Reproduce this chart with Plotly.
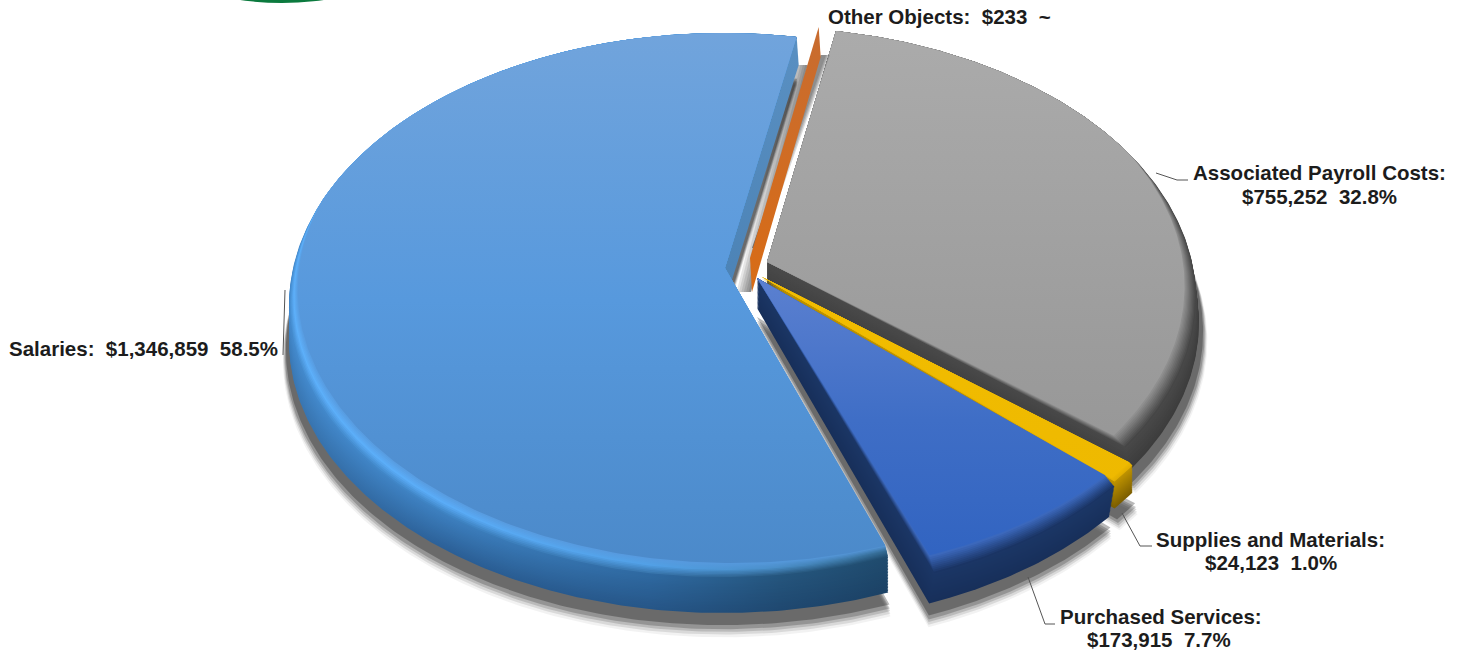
import math
import plotly.graph_objects as go

# Spending by object, listed clockwise round the pie
categories = ["Other Objects", "Associated Payroll Costs", "Supplies and Materials",
              "Purchased Services", "Salaries"]
amounts = [233, 755252, 24123, 173915, 1346859]
percent_labels = [None, "32.8%", "1.0%", "7.7%", "58.5%"]

W, H = 1461, 651
START_ANGLE = 11.2           # clockwise from the top of the disc
CX, CY, RX, RY = 722, 305, 434, 272
TILT = -0.136                # perspective shift of the disc centre

total = sum(amounts)
sweeps = [a / total * 360 for a in amounts]
edges = [START_ANGLE]
for s in sweeps:
    edges.append(edges[-1] + s)


def hex_rgb(c):
    c = c.lstrip("#")
    return tuple(int(c[i:i + 2], 16) for i in (0, 2, 4))


def mix(a, b, t):
    ra, rb = hex_rgb(a), hex_rgb(b)
    return "#%02x%02x%02x" % tuple(round(x + (y - x) * t) for x, y in zip(ra, rb))


def rim_point(theta, cx, cy, rx, ry):
    t = math.radians(theta)
    u, v = math.sin(t), -math.cos(t)
    den = 1 + TILT * v
    return (cx + rx * u * math.sqrt(1 - TILT ** 2) / den,
            cy + ry * (v + TILT) / den)


def wedge(a0, a1, off, apex, depth=0.0, grow=0.0, bevel=0.0, light=(0, 0), lean=0.0):
    """Outline of one slice, pushed down by depth and pulled in by bevel along `light`."""
    n = max(2, int(abs(a1 - a0) * 1.5))
    cx, cy = CX + off[0], CY + off[1]
    xs, ys = [apex[0]], [apex[1] + depth]
    for i in range(n + 1):
        th = a0 + (a1 - a0) * i / n
        x, y = rim_point(th, cx, cy, RX + grow, RY + grow)
        nx, ny = (x - cx) / RX ** 2, (y - cy) / RY ** 2
        norm = math.hypot(nx, ny)
        nx, ny = nx / norm, ny / norm
        pull = bevel * max(0.0, nx * light[0] + ny * light[1])
        xs.append(x - nx * pull + lean * depth)
        ys.append(y - ny * pull + depth)
    xs.append(apex[0])
    ys.append(apex[1] + depth)
    return xs, ys


def hgrad(stops):
    lo, hi = stops[0][0], stops[-1][0]
    return dict(type="horizontal", start=lo, stop=hi,
                colorscale=[[(x - lo) / (hi - lo), c] for x, c in stops])


def vgrad(stops):
    lo, hi = stops[0][0], stops[-1][0]
    return dict(type="vertical", start=lo, stop=hi,
                colorscale=[[(y - lo) / (hi - lo), c] for y, c in stops])


def blend(stops_a, stops_b, t):
    return [(x, mix(ca, cb, t)) for (x, ca), (_, cb) in zip(stops_a, stops_b)]


fig = go.Figure()


def poly(xs, ys, color=None, gradient=None):
    kw = dict(x=xs, y=ys, mode="lines", fill="toself", line=dict(width=0),
              hoverinfo="skip", showlegend=False)
    if gradient is not None:
        kw["fillgradient"] = gradient
    else:
        kw["fillcolor"] = color
    fig.add_trace(go.Scatter(**kw))


# Per-slice appearance; indices follow `categories`
slices = {
    "Other Objects": dict(i=0, off=(23, -10), apex=(750, 258), depth=30),
    "Associated Payroll Costs": dict(
        i=1, off=(40, -6), apex=(767, 262), depth=24, lean=0.12,
        wall_top=[(760, "#4a4a4a"), (1200, "#484848")],
        wall_bot=[(760, "#404040"), (1200, "#3c3c3c")],
        rim=[(760, "#464646"), (1200, "#464646")],
        light=(0.7, 0.71), bevel=17,
        face=[(30, "#ababab"), (450, "#979797")]),
    "Supplies and Materials": dict(
        i=2, off=(47, 12), apex=(762, 277), depth=27,
        wall_top=[(760, "#c09400"), (1135, "#c09400")],
        wall_bot=[(760, "#7c5e00"), (1135, "#7c5e00")],
        rim=[(760, "#e0ad00"), (1135, "#e0ad00")],
        light=(0.4, 0.9), bevel=5,
        face=[(270, "#f2bd00"), (490, "#eeb900")]),
    "Purchased Services": dict(
        i=3, off=(47, 17), apex=(757, 278), depth=30, lean=-0.17,
        wall_top=[(750, "#1b3665"), (1120, "#1b3665")],
        wall_bot=[(750, "#172f5a"), (1120, "#172f5a")],
        rim=[(750, "#1a3464"), (1120, "#1a3464")],
        light=(-0.1, 1.0), bevel=20,
        face=[(278, "#5b80d0"), (420, "#3f6ec6"), (580, "#2f62c0")]),
    "Salaries": dict(
        i=4, off=(1, 0), apex=(725, 268), depth=36, wall_span=135,
        wall_top=[(285, "#4389cc"), (450, "#3d80c0"), (650, "#2f6aa2"), (780, "#25567e"), (900, "#1f4a6c")],
        wall_bot=[(285, "#3a78b4"), (450, "#2b5f96"), (650, "#265688"), (780, "#1f4870"), (900, "#1b4164")],
        rim=[(285, "#4389cc"), (450, "#3f84c4"), (650, "#3a78b0"), (780, "#2c5f88"), (900, "#214e70")],
        highlight=[(285, "#5db0fa"), (450, "#5aacf7"), (650, "#52a0e6"), (780, "#4a8ec8"), (900, "#33688f")],
        light=(-0.55, 0.83), bevel=17,
        face=[(33, "#71a4dc"), (300, "#5799dd"), (575, "#4b89c9")]),
}


def span(info):
    return edges[info["i"]], edges[info["i"] + 1]


# Ground shadow: a grey band with a soft outer edge
SHADOW_ALPHAS = [(18, 0.05), (16, 0.10), (14, 0.14), (12, 0.20), (9, 0.28)]
for name in categories:
    s = slices[name]
    if name == "Other Objects":
        continue
    a0, a1 = span(s)
    for extra, alpha in SHADOW_ALPHAS:
        xs, ys = wedge(a0, a1, s["off"], s["apex"], depth=s["depth"] + extra,
                       grow=extra * 0.35, lean=s.get("lean", 0.0))
        poly(xs, ys, color="rgba(0,0,0,%.2f)" % alpha)


def draw_slice(name):
    s = slices[name]
    a0, a1 = span(s)
    off, apex, depth = s["off"], s["apex"], s["depth"]
    lean = s.get("lean", 0.0)
    wall_end = a0 + s.get("wall_span", a1 - a0)
    # side wall, deepest layer first
    layers = 24
    for k in range(layers, 0, -1):
        t = k / layers
        xs, ys = wedge(a0, wall_end, off, apex, depth=depth * t, lean=lean)
        poly(xs, ys, gradient=hgrad(blend(s["wall_top"], s["wall_bot"], t)))
    # end wall of the largest slice, facing the gap at the top
    if name == "Salaries":
        px, py = rim_point(a1, CX + off[0], CY + off[1], RX, RY)
        poly([px, px + 2, apex[0] + 2, apex[0], px],
             [py, py + 28, apex[1] + 28, apex[1], py],
             gradient=vgrad([(36, "#5a90c2"), (300, "#4b82b5")]))
    # bevel: rim colour easing through an optional highlight into the face colour
    steps = 10
    mid_face = s["face"][len(s["face"]) // 2][1]
    hi = s.get("highlight")
    for k in range(steps):
        t = k / steps
        xs, ys = wedge(a0, a1, off, apex, bevel=s["bevel"] * t, light=s["light"])
        if hi:
            if t < 0.5:
                stops = blend(s["rim"], hi, t / 0.5)
            else:
                stops = [(x, mix(c, mid_face, (t - 0.5) / 0.5)) for x, c in hi]
        else:
            stops = [(x, mix(c, mid_face, t)) for x, c in s["rim"]]
        poly(xs, ys, gradient=hgrad(stops))
    xs, ys = wedge(a0, a1, off, apex, bevel=s["bevel"], light=s["light"])
    poly(xs, ys, gradient=vgrad(s["face"]))


draw_slice("Associated Payroll Costs")

# The smallest slice is only visible as its thin side wall, with a shadow either side
oth = slices["Other Objects"]
ox, oy = rim_point(edges[0], CX + oth["off"][0], CY + oth["off"][1], RX, RY)
ax, ay = oth["apex"]
for k in range(6, 0, -1):
    poly([ox - 11, ax + 1, ax + 1 - k * 2.4, ox - 11 - k * 2.4, ox - 11],
         [oy + 38, ay + 34, ay + 34, oy + 38, oy + 38],
         color="rgba(30,30,30,0.11)")
for k in range(4, 0, -1):
    poly([ox + 2, ax + 2, ax + 6 + k * 1.3, ox + 6 + k * 1.3, ox + 2],
         [oy + 28, ay - 10, ay - 10, oy + 28, oy + 28],
         color="rgba(30,30,30,0.16)")

draw_slice("Supplies and Materials")
draw_slice("Purchased Services")
poly([ox, ox + 2, ax + 2, ax, ox], [oy, oy + 30, ay + 34, ay, oy],
     gradient=vgrad([(27, "#c86c30"), (292, "#d86c16")]))
draw_slice("Salaries")


def money(v):
    return "${:,}".format(v)


NB = "\u00a0\u00a0"
label_font = dict(family="Liberation Sans", size=20.5, color="#1c1c1c")


def label(x, y, text, anchor="center"):
    fig.add_annotation(x=x, y=y, text="<b>%s</b>" % text, showarrow=False, xanchor=anchor,
                       yanchor="middle", font=label_font, xref="x", yref="y")


label(826, 16, "Other Objects:" + NB + money(amounts[0]) + NB + "~", "left")
label(1319, 172, "Associated Payroll Costs:")
label(1319, 196, money(amounts[1]) + NB + percent_labels[1])
label(1270, 539, "Supplies and Materials:")
label(1271, 562, money(amounts[2]) + NB + percent_labels[2])
label(1161, 616, "Purchased Services:")
label(1159, 639, money(amounts[3]) + NB + percent_labels[3])
label(7, 348, "Salaries:" + NB + money(amounts[4]) + NB + percent_labels[4], "left")

# Leader lines from the labels to their slices
leaders = [
    ([1156, 1177, 1188], [173, 180, 180]),
    ([1122, 1140, 1152], [513, 546, 546]),
    ([1028, 1045, 1055], [577, 624, 624]),
    ([285, 283], [290, 355]),
]
for lx, ly in leaders:
    fig.add_trace(go.Scatter(x=lx, y=ly, mode="lines", line=dict(color="#555555", width=1),
                             hoverinfo="skip", showlegend=False))

# Edge of the emblem cut off by the top of the frame
fig.add_shape(type="circle", x0=200, x1=364, y0=-40, y1=3, fillcolor="#0b7a3e",
              line=dict(width=0), xref="x", yref="y")

fig.update_layout(
    width=W, height=H, margin=dict(l=0, r=0, t=0, b=0),
    paper_bgcolor="#ffffff", plot_bgcolor="#ffffff", showlegend=False,
    xaxis=dict(range=[0, W], visible=False, fixedrange=True),
    yaxis=dict(range=[H, 0], visible=False, fixedrange=True),
)
fig.write_html("out.html", config={"displayModeBar": False})
